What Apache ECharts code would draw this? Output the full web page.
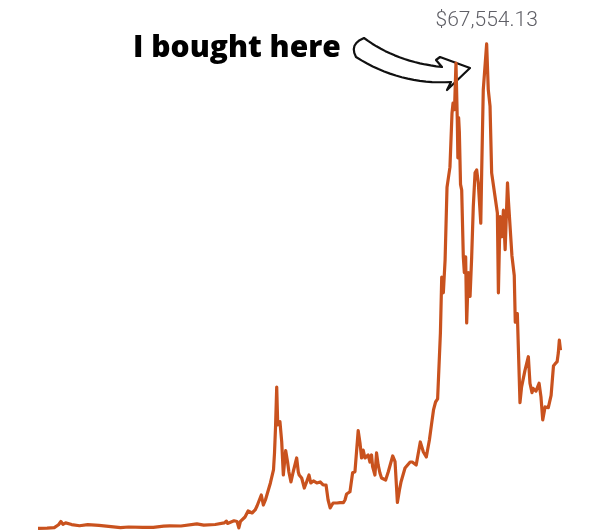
<!DOCTYPE html>
<html>
<head>
<meta charset="utf-8">
<script src="https://cdn.jsdelivr.net/npm/echarts@6/dist/echarts.min.js"></script>
<style>
  html, body { margin: 0; padding: 0; background: #ffffff; }
  #chart { width: 600px; height: 530px; }
</style>
</head>
<body>
<div id="chart"></div>
<script>
// ---- data ----
const dates = [
  '2013-07-01','2013-09-01','2013-10-20','2013-11-18','2013-12-04','2013-12-18','2014-01-05','2014-02-15',
  '2014-04-10','2014-06-05','2014-08-20','2014-10-25','2015-01-14','2015-03-10','2015-06-15','2015-08-25',
  '2015-11-04','2015-12-15','2016-03-01','2016-06-17','2016-08-03','2016-10-20','2016-12-20','2017-01-05',
  '2017-01-12','2017-02-25','2017-03-18','2017-03-30','2017-04-10','2017-05-11','2017-06-01','2017-06-28',
  '2017-07-19','2017-08-01','2017-08-30','2017-09-13','2017-09-27','2017-10-17','2017-10-31','2017-11-21',
  '2017-11-28','2017-12-05','2017-12-13','2017-12-20','2018-01-04','2018-01-16','2018-01-27','2018-02-12',
  '2018-02-25','2018-03-06','2018-03-20','2018-04-04','2018-04-28','2018-05-09','2018-05-15','2018-06-01',
  '2018-06-19','2018-07-05','2018-07-21','2018-08-02','2018-08-20','2018-09-12','2018-10-05','2018-10-25',
  '2018-11-14','2018-11-28','2018-12-12','2019-01-01','2019-01-28','2019-02-17','2019-03-12','2019-03-23',
  '2019-04-03','2019-04-26','2019-05-14','2019-05-30','2019-06-05','2019-06-21','2019-07-03','2019-07-14',
  '2019-07-25','2019-08-06','2019-08-17','2019-08-28','2019-09-09','2019-09-20','2019-09-27','2019-10-13',
  '2019-10-24','2019-11-04','2019-11-16','2019-11-27','2019-12-25','2020-01-12','2020-02-11','2020-02-27',
  '2020-03-14','2020-03-28','2020-04-08','2020-04-20','2020-05-05','2020-06-09','2020-06-23','2020-07-20',
  '2020-08-17','2020-09-07','2020-09-27','2020-10-18','2020-11-01','2020-11-15','2020-11-29','2020-12-13',
  '2021-01-01','2021-01-10','2021-01-21','2021-02-02','2021-02-15','2021-03-07','2021-03-21','2021-03-28',
  '2021-04-07','2021-04-17','2021-04-26','2021-04-30','2021-05-05','2021-05-10','2021-05-18','2021-05-26',
  '2021-06-06','2021-06-13','2021-06-22','2021-06-29','2021-07-10','2021-07-22','2021-08-02','2021-08-13',
  '2021-08-25','2021-09-05','2021-09-16','2021-10-03','2021-10-09','2021-10-20','2021-11-01','2021-11-12',
  '2021-11-23','2021-12-05','2021-12-16','2022-01-08','2022-01-24','2022-01-31','2022-02-11','2022-02-25',
  '2022-03-06','2022-03-18','2022-04-03','2022-04-10','2022-05-03','2022-05-19','2022-05-26','2022-06-09',
  '2022-06-27','2022-07-08','2022-07-31','2022-08-23','2022-09-03','2022-09-17','2022-09-24','2022-10-14',
  '2022-11-04','2022-11-17','2022-11-29','2022-12-15','2023-01-06','2023-01-25','2023-02-10','2023-02-21',
  '2023-03-07','2023-03-15','2023-03-22','2023-03-30'
];
const prices = [
  90,130,190,600,1050,650,850,620,
  450,620,500,360,200,280,240,220,
  390,440,420,720,540,630,850,1100,
  780,1150,1050,150,1050,1670,2510,2230,
  2650,3200,4740,3340,4040,5430,6410,8220,
  10590,14210,19780,14490,14950,12160,7520,10920,
  9330,7940,6550,7940,9890,7940,7520,7100,
  5710,6590,7520,6410,6690,6410,6550,6130,
  6130,4040,2930,3620,3620,3670,3670,4040,
  4870,5190,7840,7980,8220,13700,12030,9890,
  11000,9890,10080,10310,9330,10310,8680,7520,
  10590,8920,7800,7100,6830,7980,10170,9370,
  3700,5430,6590,6830,8500,9330,9330,8920,
  12120,10730,10030,12400,14500,16580,17690,18110,
  27300,35100,32900,37500,47600,50400,57900,59300,
  58400,64900,57000,51700,57300,55300,48000,47200,
  37900,35700,37900,28700,35700,32400,37900,44900,
  49600,50000,48200,42600,49600,61200,61400,67554.13,
  61200,58900,49600,46300,44000,32900,43500,40700,
  44400,38900,48200,45500,38100,35300,28800,30000,
  17600,19800,22100,24000,20300,19000,19600,19200,
  20300,18400,15200,17000,16900,18600,22700,23000,
  23300,24500,26300,24900
];
const annotationText = 'I bought here';

// ---- arrow outline (hand-drawn annotation), sampled from bezier segments ----
function quad(p0, c, p1, n) {
  const pts = [];
  for (let i = 1; i <= n; i++) {
    const t = i / n, u = 1 - t;
    pts.push([u*u*p0[0] + 2*u*t*c[0] + t*t*p1[0], u*u*p0[1] + 2*u*t*c[1] + t*t*p1[1]]);
  }
  return pts;
}
let arrowPts = [[364, 38]];
arrowPts = arrowPts.concat(quad([364, 38], [396, 62], [442, 67], 16));
arrowPts.push([436, 60], [440, 57], [470, 68], [447, 90], [451, 82]);
arrowPts = arrowPts.concat(quad([451, 82], [400, 85], [356, 57], 16));
arrowPts = arrowPts.concat(quad([356, 57], [349, 44], [364, 38], 6));

const chart = echarts.init(document.getElementById('chart'), null, { renderer: 'canvas' });
const seriesData = dates.map((d, i) => [d, prices[i]]);

chart.setOption({
  animation: false,
  backgroundColor: '#ffffff',
  grid: { left: 38, top: 26.4, width: 522.5, height: 502.6 },
  xAxis: {
    type: 'time', min: '2013-07-01', max: '2023-03-30', show: false
  },
  yAxis: {
    type: 'value', min: 0, max: 70000, show: false
  },
  graphic: [
    {
      type: 'polygon', z: 0,
      shape: { points: arrowPts },
      style: { fill: '#ffffff', stroke: '#111111', lineWidth: 2.2, lineJoin: 'round' }
    },
    {
      type: 'text', z: 5,
      style: {
        x: 133, y: 48, text: annotationText,
        font: '800 30px "Open Sans"', fill: '#000000',
        textAlign: 'left', textVerticalAlign: 'middle'
      }
    }
  ],
  series: [{
    type: 'line',
    data: seriesData,
    showSymbol: false,
    clip: false,
    z: 3,
    lineStyle: { color: '#c9521e', width: 3.2, join: 'round' },
    itemStyle: { color: '#c9521e' },
    markPoint: {
      symbol: 'circle', symbolSize: 0,
      data: [{ type: 'max' }],
      label: {
        show: true, position: 'top', distance: 13,
        color: '#5f5f66', fontSize: 21, fontFamily: 'Roboto', fontWeight: 300,
        formatter: p => '$' + p.value.toLocaleString('en-US', { minimumFractionDigits: 2, maximumFractionDigits: 2 })
      }
    }
  }]
});
</script>
</body>
</html>
